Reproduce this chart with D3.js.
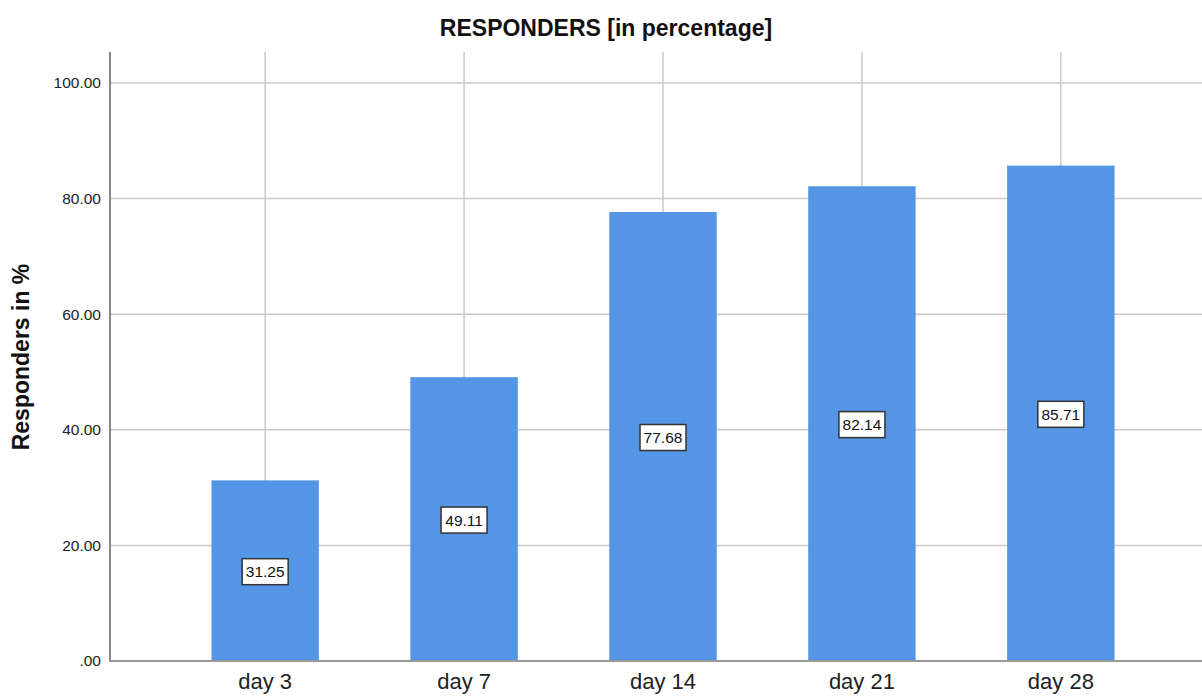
<!DOCTYPE html>
<html lang="en">
<head>
  <meta charset="UTF-8">
  <title>Responders</title>
  <script src="https://d3js.org/d3.v7.min.js"></script>
  <style>
    body { margin: 0; background: #fff; }
    text { font-family: "Liberation Sans", Arial, sans-serif; }
  </style>
</head>
<body>

<div id="chart"></div>

<script>
// Data
const days = ['day 3', 'day 7', 'day 14', 'day 21', 'day 28'];
const responders = [31.25, 49.11, 77.68, 82.14, 85.71];
const yTicks = [0, 20, 40, 60, 80, 100];

const width = 1202;
const height = 696;

const svg = d3.select("#chart")
  .append("svg")
  .attr("width", width)
  .attr("height", height);

// plot area
const plotLeft = 110, plotTop = 52, plotBottom = 661;

const x = d3.scaleBand()
  .domain(days)
  .range([plotLeft, 1216])
  .paddingInner(0.46)
  .paddingOuter(0.51);

const y = d3.scaleLinear()
  .domain([0, 100])
  .range([plotBottom, 83]);

const fmt = v => v === 0 ? ".00" : d3.format(".2f")(v);

// grid lines
svg.append("g")
  .selectAll("line")
  .data(yTicks.filter(d => d > 0))
  .enter()
  .append("line")
  .attr("x1", plotLeft).attr("x2", width)
  .attr("y1", d => y(d)).attr("y2", d => y(d))
  .attr("stroke", "#c9c9c9")
  .attr("stroke-width", 1.5);

svg.append("g")
  .selectAll("line")
  .data(days)
  .enter()
  .append("line")
  .attr("x1", d => x(d) + x.bandwidth() / 2)
  .attr("x2", d => x(d) + x.bandwidth() / 2)
  .attr("y1", plotTop).attr("y2", plotBottom)
  .attr("stroke", "#c9c9c9")
  .attr("stroke-width", 1.5);

// bars
svg.append("g")
  .selectAll("rect")
  .data(responders)
  .enter()
  .append("rect")
  .attr("x", (d, i) => x(days[i]))
  .attr("y", d => y(d))
  .attr("width", x.bandwidth())
  .attr("height", d => plotBottom - y(d))
  .attr("fill", "#5595e5");

// axes
const yAxis = svg.append("g")
  .attr("transform", `translate(${plotLeft},0)`)
  .call(d3.axisLeft(y).tickValues(yTicks).tickFormat(fmt).tickSize(0).tickPadding(9));
yAxis.select(".domain").remove();
yAxis.selectAll("text")
  .attr("font-size", 15.5)
  .attr("fill", "#222");

const xAxis = svg.append("g")
  .attr("transform", `translate(0,${plotBottom})`)
  .call(d3.axisBottom(x).tickSize(0).tickPadding(12));
xAxis.select(".domain").remove();
xAxis.selectAll("text")
  .attr("font-size", 22)
  .attr("fill", "#222");

svg.append("line")
  .attr("x1", plotLeft).attr("x2", plotLeft)
  .attr("y1", plotTop).attr("y2", plotBottom + 1)
  .attr("stroke", "#888")
  .attr("stroke-width", 2);

svg.append("line")
  .attr("x1", plotLeft - 1).attr("x2", width)
  .attr("y1", plotBottom).attr("y2", plotBottom)
  .attr("stroke", "#999")
  .attr("stroke-width", 2);

// value labels in boxes
const labels = svg.append("g")
  .selectAll("g")
  .data(responders)
  .enter()
  .append("g")
  .attr("transform", (d, i) => `translate(${x(days[i]) + x.bandwidth() / 2},${y(d / 2) + 1})`);

labels.append("rect")
  .attr("x", -23).attr("y", -13)
  .attr("width", 46).attr("height", 26)
  .attr("fill", "#fff")
  .attr("stroke", "#333")
  .attr("stroke-width", 1.5);

labels.append("text")
  .attr("text-anchor", "middle")
  .attr("dy", "0.36em")
  .attr("font-size", 15.5)
  .attr("fill", "#111")
  .text(d => d.toFixed(2));

// titles
svg.append("text")
  .attr("x", 606).attr("y", 36)
  .attr("text-anchor", "middle")
  .attr("font-size", 23)
  .attr("font-weight", "bold")
  .attr("fill", "#111")
  .text("RESPONDERS [in percentage]");

svg.append("text")
  .attr("transform", "translate(29,357) rotate(-90)")
  .attr("text-anchor", "middle")
  .attr("font-size", 23)
  .attr("font-weight", "bold")
  .attr("fill", "#111")
  .text("Responders in %");
</script>

</body>
</html>
